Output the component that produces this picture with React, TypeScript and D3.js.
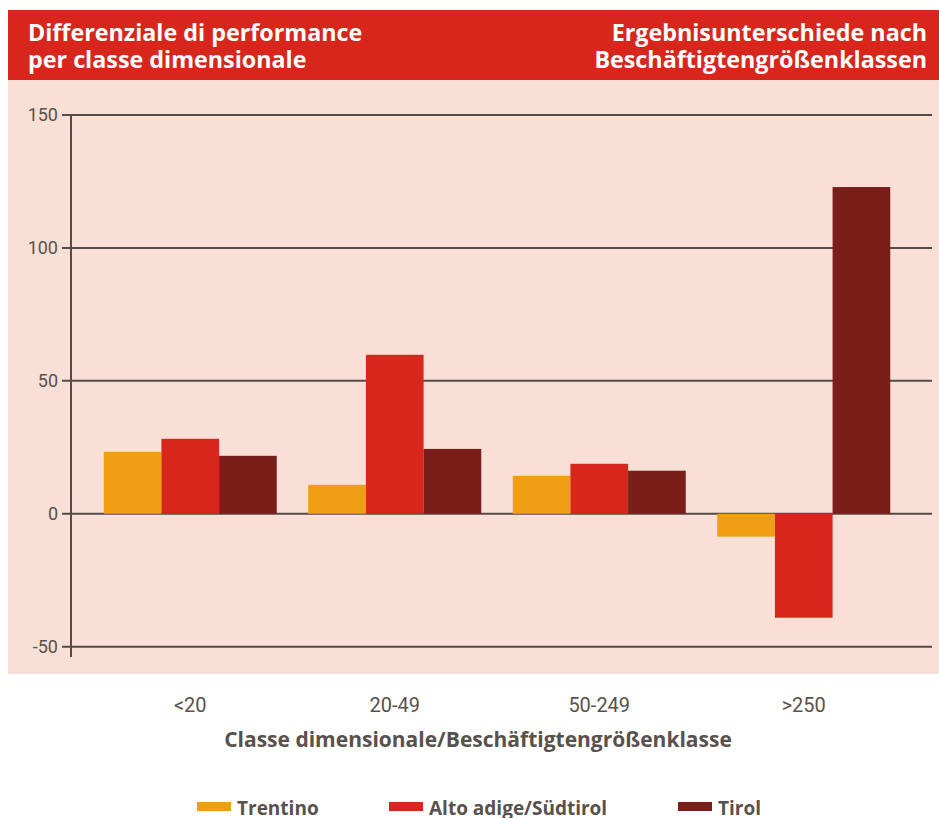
import * as d3 from "d3";

const categories = ["<20", "20-49", "50-249", ">250"];
const seriesNames = ["Trentino", "Alto adige/Südtirol", "Tirol"];
const trentino = [23.3, 10.9, 14.3, -8.6];
const altoAdige = [28.2, 59.8, 18.8, -39.1];
const tirol = [21.8, 24.4, 16.2, 122.9];
const yTicks = [150, 100, 50, 0, -50];
const colors = ["#f09e14", "#d9261c", "#7a1e19"];

const W = 939;
const H = 818;
const TEXT = "#58514d";

const App = () => {
  const series = [trentino, altoAdige, tirol];

  const y = d3.scaleLinear().domain([-50, 150]).range([646.7, 115]);
  const x0 = d3.scaleBand<string>().domain(categories).range([88, 906])
    .paddingInner(0.154).paddingOuter(0.077);
  const x1 = d3.scaleBand<string>().domain(seriesNames).range([0, x0.bandwidth()]);

  // legend positions
  const legendX = [197, 389, 678];

  return (
    <svg width={W} height={H} style={{ position: "absolute", left: 0, top: 0 }}
      fontFamily="'Open Sans', sans-serif">
      {/* header */}
      <rect x={8} y={10} width={W - 8} height={70} fill="#d8261c" />
      <g fill="#fff" fontWeight="bold" fontSize={23.3}>
        <text x={28} y={41}>Differenziale di performance</text>
        <text x={28} y={68}>per classe dimensionale</text>
        <text x={927} y={41} textAnchor="end">Ergebnisunterschiede nach</text>
        <text x={927} y={68} textAnchor="end">Beschäftigtengrößenklassen</text>
      </g>
      {/* plot background */}
      <rect x={8} y={80} width={W - 8} height={594} fill="#f9e0d6" />

      {/* gridlines + ticks */}
      {yTicks.map(t => (
        <g key={t}>
          <line x1={62} x2={932} y1={y(t)} y2={y(t)} stroke="#534b47" strokeWidth={2} />
          <text x={58} y={y(t) + 6} textAnchor="end" fontSize={18} fill={TEXT}
            fontFamily="'Liberation Sans Narrow', 'Roboto', sans-serif">{t}</text>
        </g>
      ))}

      {/* bars */}
      {categories.map((c, i) => (
        <g key={c} transform={`translate(${x0(c)},0)`}>
          {series.map((s, j) => {
            const v = s[i];
            return (
              <rect key={j} x={x1(seriesNames[j])} width={x1.bandwidth()}
                y={y(Math.max(0, v))} height={Math.abs(y(v) - y(0))} fill={colors[j]} />
            );
          })}
        </g>
      ))}

      {/* y axis */}
      <line x1={71} x2={71} y1={114} y2={657} stroke="#534b47" strokeWidth={2} />

      {/* x labels */}
      {categories.map(c => (
        <text key={c} x={(x0(c) as number) + x0.bandwidth() / 2} y={712} textAnchor="middle"
          fontSize={20} fill={TEXT} fontFamily="'Liberation Sans Narrow', 'Roboto', sans-serif">{c}</text>
      ))}
      <text x={478} y={747} textAnchor="middle" fontSize={21} fontWeight="bold" fill={TEXT}>
        Classe dimensionale/Beschäftigtengrößenklasse
      </text>

      {/* legend */}
      {seriesNames.map((n, j) => (
        <g key={n}>
          <rect x={legendX[j]} y={802} width={34} height={9} fill={colors[j]} />
          <text x={legendX[j] + 40} y={815} fontSize={19} fontWeight="bold" fill={TEXT}>{n}</text>
        </g>
      ))}
    </svg>
  );
};

export default App;
